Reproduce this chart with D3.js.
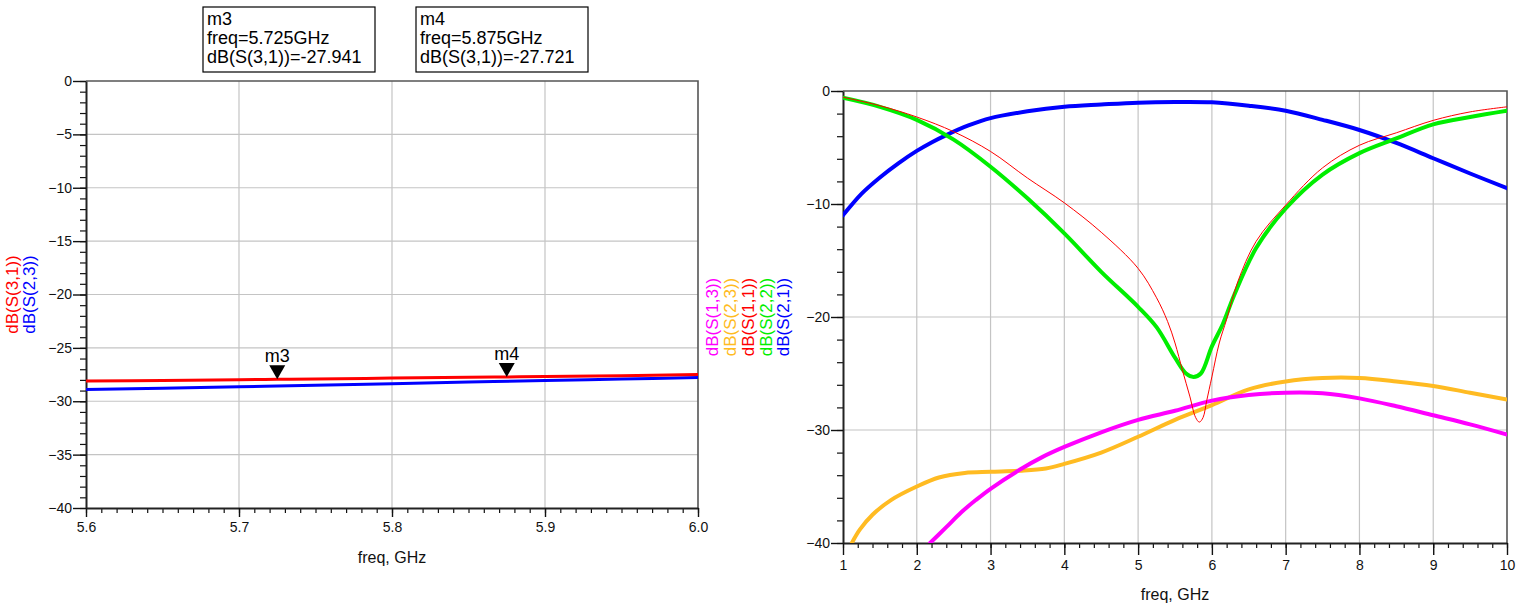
<!DOCTYPE html>
<html>
<head>
<meta charset="utf-8">
<script src="https://cdn.jsdelivr.net/npm/d3@7"></script>
<style>
  body { margin: 0; background: #fff; }
  text { font-family: "Liberation Sans", Arial, sans-serif; }
</style>
</head>
<body>
<svg id="chart" width="1530" height="605"></svg>
<script>
// ---------- narrow band: 5.6 – 6.0 GHz ----------
const bandFreqS31 = [5.6, 5.65, 5.7, 5.725, 5.75, 5.8, 5.85, 5.875, 5.9, 5.95, 6.0];
const bandS31     = [-28.1, -28.05, -27.99, -27.941, -27.91, -27.83, -27.76, -27.721, -27.68, -27.6, -27.5];
const bandFreqS23 = [5.6, 5.65, 5.7, 5.75, 5.8, 5.85, 5.9, 5.95, 6.0];
const bandS23     = [-28.9, -28.78, -28.64, -28.5, -28.35, -28.2, -28.05, -27.92, -27.78];

const markerNames = ["m3", "m4"];
const markerFreq  = [5.725, 5.875];
const markerValue = [-27.941, -27.721];

const bandXTicks = [5.6, 5.7, 5.8, 5.9, 6.0];
const bandYTicks = [0, -5, -10, -15, -20, -25, -30, -35, -40];

// ---------- wide band: 1 – 10 GHz ----------
const freqS21 = [1, 1.25, 1.5, 1.75, 2, 2.2, 2.4, 2.7, 3, 3.5, 4, 4.5, 5, 5.5, 6, 6.5, 7, 7.5, 8, 8.5, 9, 9.5, 10];
const s21     = [-11.0, -9.1, -7.65, -6.4, -5.3, -4.55, -3.9, -3.05, -2.4, -1.8, -1.4, -1.2, -1.03, -0.97, -1.0, -1.3, -1.75, -2.55, -3.45, -4.6, -5.95, -7.3, -8.6];

const freqS22 = [1, 1.5, 2, 2.5, 3, 3.5, 4, 4.5, 5, 5.25, 5.5, 5.65, 5.75, 5.85, 6, 6.15, 6.3, 6.6, 7, 7.5, 8, 8.5, 9, 9.5, 10];
const s22     = [-0.6, -1.4, -2.55, -4.3, -6.7, -9.5, -12.6, -16.0, -19.1, -20.9, -23.6, -25.0, -25.3, -25.0, -22.6, -20.6, -18.1, -13.9, -10.4, -7.4, -5.5, -4.2, -2.95, -2.3, -1.75];

const freqS11 = [1, 1.5, 2, 2.5, 3, 3.5, 4, 4.5, 5, 5.25, 5.4, 5.5, 5.6, 5.7, 5.78, 5.83, 5.88, 5.93, 6.0, 6.1, 6.2, 6.35, 6.6, 7, 7.5, 8, 8.5, 9, 9.5, 10];
const s11     = [-0.55, -1.3, -2.3, -3.6, -5.35, -7.7, -9.9, -12.5, -15.7, -18.3, -20.4, -22.3, -24.7, -27.0, -28.9, -29.3, -28.9, -27.4, -25.3, -22.3, -20.2, -16.9, -13.3, -10.1, -6.8, -4.8, -3.7, -2.6, -1.85, -1.4];

const freqS13 = [2.18, 2.4, 2.6, 2.8, 3, 3.4, 3.7, 4, 4.5, 5, 5.5, 6, 6.5, 7, 7.5, 8, 8.5, 9, 9.5, 10];
const s13     = [-40, -38.6, -37.3, -36.2, -35.2, -33.5, -32.4, -31.5, -30.2, -29.1, -28.3, -27.4, -26.9, -26.7, -26.75, -27.2, -27.9, -28.7, -29.5, -30.4];

const freqS23w = [1.12, 1.23, 1.4, 1.65, 2, 2.3, 2.65, 3, 3.4, 3.75, 4, 4.5, 5, 5.5, 6, 6.5, 7, 7.5, 8, 8.5, 9, 9.5, 10];
const s23w     = [-40, -38.8, -37.5, -36.2, -35.0, -34.2, -33.8, -33.7, -33.6, -33.4, -33.0, -32.0, -30.6, -29.1, -27.8, -26.4, -25.7, -25.4, -25.4, -25.7, -26.1, -26.7, -27.3];

const wideXTicks = [1, 2, 3, 4, 5, 6, 7, 8, 9, 10];
const wideYTicks = [0, -10, -20, -30, -40];

const svg = d3.select("#chart");
svg.append("rect").attr("width", 1530).attr("height", 605).attr("fill", "#fff");

const GRID = "#c4c4c4";
const smooth = d3.curveCatmullRom.alpha(0.5);

function drawPlot(opt) {
  const g = svg.append("g");
  const x = opt.x, y = opt.y;
  const [x0, x1] = x.range();
  const [y0, y1] = y.range(); // y0 bottom, y1 top

  // grid
  g.append("g").selectAll("line").data(opt.xTicks.slice(1, -1)).join("line")
    .attr("x1", d => x(d)).attr("x2", d => x(d)).attr("y1", y1).attr("y2", y0)
    .attr("stroke", GRID).attr("stroke-width", 1.2);
  g.append("g").selectAll("line").data(opt.yTicks.slice(1, -1)).join("line")
    .attr("x1", x0).attr("x2", x1).attr("y1", d => y(d)).attr("y2", d => y(d))
    .attr("stroke", GRID).attr("stroke-width", 1.2);

  // frame (top / right)
  g.append("path")
    .attr("d", `M${x0},${y1}H${x1}V${y0}`)
    .attr("fill", "none").attr("stroke", "#555").attr("stroke-width", 1.6);

  // minor ticks
  g.append("g").attr("transform", `translate(0,${y0})`)
    .call(d3.axisBottom(x).tickValues(opt.xMinor).tickSize(5).tickFormat(""))
    .call(s => s.select(".domain").remove())
    .call(s => s.selectAll("line").attr("stroke", "#111").attr("stroke-width", 1.2));
  g.append("g").attr("transform", `translate(${x0},0)`)
    .call(d3.axisLeft(y).tickValues(opt.yMinor).tickSize(6).tickFormat(""))
    .call(s => s.select(".domain").remove())
    .call(s => s.selectAll("line").attr("stroke", "#111").attr("stroke-width", 1.2));

  // major axes
  const ax = g.append("g").attr("transform", `translate(0,${y0})`)
    .call(d3.axisBottom(x).tickValues(opt.xTicks).tickSize(opt.xMajorLen).tickPadding(5).tickFormat(opt.xFmt).tickSizeOuter(0));
  const ay = g.append("g").attr("transform", `translate(${x0},0)`)
    .call(d3.axisLeft(y).tickValues(opt.yTicks).tickSize(opt.yMajorLen).tickPadding(1).tickFormat(d3.format("d")).tickSizeOuter(0));
  [ax, ay].forEach(a => {
    a.select(".domain").attr("stroke", "#222").attr("stroke-width", 2);
    a.selectAll(".tick line").attr("stroke", "#111").attr("stroke-width", 1.4);
    a.selectAll(".tick text").attr("fill", "#111").style("font-size", "14px")
      .style("font-family", '"Liberation Sans", Arial, sans-serif');
  });

  // x axis title
  g.append("text").attr("x", (x0 + x1) / 2).attr("y", opt.titleY)
    .attr("text-anchor", "middle").style("font-size", "16px").attr("fill", "#111")
    .text("freq, GHz");

  // rotated series names
  const cy = (y0 + y1) / 2;
  opt.legend.forEach((l, i) => {
    g.append("text")
      .attr("transform", `translate(${opt.legendX[i]},${cy}) rotate(-90)`)
      .attr("text-anchor", "middle").style("font-size", "17px")
      .attr("fill", l.color).text(l.name);
  });

  // series
  const clipId = "clip" + Math.round(x0);
  svg.append("clipPath").attr("id", clipId).append("rect")
    .attr("x", x0).attr("y", y1).attr("width", x1 - x0).attr("height", y0 - y1);
  const lg = g.append("g").attr("clip-path", `url(#${clipId})`);
  opt.series.forEach(s => {
    const pts = s.f.map((f, i) => [f, s.v[i]]);
    lg.append("path")
      .attr("d", d3.line().x(d => x(d[0])).y(d => y(d[1])).curve(smooth)(pts))
      .attr("fill", "none").attr("stroke", s.color).attr("stroke-width", s.w)
      .attr("stroke-linejoin", "round").attr("stroke-linecap", "round");
  });
  return g;
}

// ----- left: narrow band -----
const xL = d3.scaleLinear().domain([5.6, 6.0]).range([86, 698]);
const yL = d3.scaleLinear().domain([-40, 0]).range([508, 81]);
drawPlot({
  x: xL, y: yL,
  xTicks: bandXTicks, yTicks: bandYTicks,
  xMinor: d3.range(0, 41).map(i => 5.6 + i * 0.01),
  yMinor: d3.range(0, 41).map(i => -i),
  xMajorLen: 9, yMajorLen: 13,
  xFmt: d3.format(".1f"),
  titleY: 563,
  legend: [{ name: "dB(S(3,1))", color: "#ff0000" }, { name: "dB(S(2,3))", color: "#0000ff" }],
  legendX: [18, 35],
  series: [
    { f: bandFreqS23, v: bandS23, color: "#0000ff", w: 3 },
    { f: bandFreqS31, v: bandS31, color: "#ff0000", w: 3 }
  ]
});

// markers on S(3,1)
const mk = svg.append("g");
markerNames.forEach((name, i) => {
  const mx = xL(markerFreq[i]), my = yL(markerValue[i]);
  mk.append("path").attr("d", `M${mx},${my}L${mx - 8},${my - 14}L${mx + 8},${my - 14}Z`).attr("fill", "#000");
  mk.append("text").attr("x", mx).attr("y", my - 17).attr("text-anchor", "middle")
    .style("font-size", "18px").attr("fill", "#000").text(name);
});

// marker readout boxes
const boxX = [203, 416];
markerNames.forEach((name, i) => {
  const bg = svg.append("g").attr("transform", `translate(${boxX[i]},7)`);
  bg.append("rect").attr("width", 172).attr("height", 65)
    .attr("fill", "#fff").attr("stroke", "#000").attr("stroke-width", 1.2);
  const lines = [name, `freq=${markerFreq[i].toFixed(3)}GHz`, `dB(S(3,1))=${markerValue[i].toFixed(3)}`];
  lines.forEach((t, j) => {
    bg.append("text").attr("x", 4).attr("y", 18 + j * 19)
      .style("font-size", "18px").attr("fill", "#000").text(t);
  });
});

// ----- right: wide band -----
const xR = d3.scaleLinear().domain([1, 10]).range([843, 1507]);
const yR = d3.scaleLinear().domain([-40, 0]).range([543, 91]);
drawPlot({
  x: xR, y: yR,
  xTicks: wideXTicks, yTicks: wideYTicks,
  xMinor: d3.range(0, 46).map(i => 1 + i * 0.2),
  yMinor: d3.range(0, 21).map(i => -2 * i),
  xMajorLen: 12, yMajorLen: 12,
  xFmt: d3.format("d"),
  titleY: 600,
  legend: [
    { name: "dB(S(1,3))", color: "#ff00ff" },
    { name: "dB(S(2,3))", color: "#ffbb22" },
    { name: "dB(S(1,1))", color: "#ff0000" },
    { name: "dB(S(2,2))", color: "#00ee00" },
    { name: "dB(S(2,1))", color: "#0000ff" }
  ],
  legendX: [718, 736, 754, 772, 789],
  series: [
    { f: freqS23w, v: s23w, color: "#ffbb22", w: 4 },
    { f: freqS13, v: s13, color: "#ff00ff", w: 4 },
    { f: freqS21, v: s21, color: "#0000ff", w: 4 },
    { f: freqS22, v: s22, color: "#00ee00", w: 4 },
    { f: freqS11, v: s11, color: "#ff0000", w: 1 }
  ]
});
</script>
</body>
</html>
